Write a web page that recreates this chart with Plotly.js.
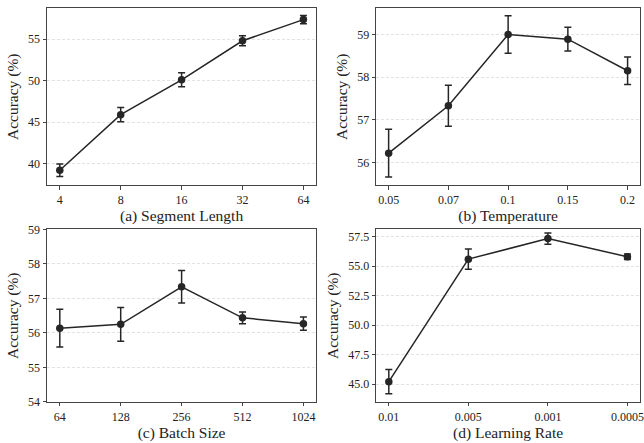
<!DOCTYPE html>
<html>
<head>
<meta charset="utf-8">
<script src="https://cdn.plot.ly/plotly-3.0.1.min.js"></script>
<style>html,body{margin:0;padding:0;background:#fff;}#chart{width:644px;height:443px;}</style>
</head>
<body>
<div id="chart"></div>
<script>
// Data
const segLabels = ["4", "8", "16", "32", "64"];
const segAcc = [39.2, 45.9, 50.1, 54.8, 57.35];
const segErr = [0.75, 0.85, 0.85, 0.6, 0.5];

const tempLabels = ["0.05", "0.07", "0.1", "0.15", "0.2"];
const tempAcc = [56.22, 57.33, 59.0, 58.89, 58.15];
const tempErr = [0.56, 0.48, 0.44, 0.28, 0.32];

const batchLabels = ["64", "128", "256", "512", "1024"];
const batchAcc = [56.14, 56.25, 57.34, 56.44, 56.27];
const batchErr = [0.55, 0.49, 0.47, 0.17, 0.19];

const lrLabels = ["0.01", "0.005", "0.001", "0.0005"];
const lrAcc = [45.22, 55.59, 57.33, 55.79];
const lrErr = [1.03, 0.85, 0.48, 0.24];

const ink = '#262626';
function tr(x, y, e, xa, ya) {
  return {
    x: x, y: y, xaxis: xa, yaxis: ya, type: 'scatter', mode: 'lines+markers',
    line: {color: ink, width: 1.5},
    marker: {color: ink, size: 7.5},
    error_y: {type: 'data', array: e, visible: true, color: ink, thickness: 1.5, width: 3.5},
    showlegend: false, cliponaxis: false
  };
}
const data = [
  tr(segLabels, segAcc, segErr, 'x', 'y'),
  tr(tempLabels, tempAcc, tempErr, 'x2', 'y2'),
  tr(batchLabels, batchAcc, batchErr, 'x3', 'y3'),
  tr(lrLabels, lrAcc, lrErr, 'x4', 'y4')
];
const font = {family: '"Liberation Serif", "Times New Roman", serif', size: 12, color: '#222'};
const titleFont = {family: font.family, size: 15.5, color: '#222'};
function xax(dom, anchor, title, n, pad) {
  return {
    domain: dom, anchor: anchor, type: 'category',
    range: [-pad, n - 1 + pad],
    showgrid: false, zeroline: false,
    showline: true, mirror: true, linecolor: '#444', linewidth: 1,
    ticks: 'outside', ticklen: 3.5, tickcolor: '#444', tickwidth: 1,
    tickfont: font,
    title: {text: title, font: titleFont, standoff: 3}
  };
}
function yax(dom, anchor, range, dtick, fmt) {
  return {
    domain: dom, anchor: anchor, range: range, dtick: dtick, tickformat: fmt,
    showgrid: true, gridcolor: '#dcdcdc', griddash: '3px,2px', gridwidth: 0.8,
    zeroline: false,
    showline: true, mirror: true, linecolor: '#444', linewidth: 1,
    ticks: 'outside', ticklen: 3.5, tickcolor: '#444', tickwidth: 1,
    tickfont: font,
    title: {text: 'Accuracy (%)', font: titleFont, standoff: 5}
  };
}
const layout = {
  width: 644, height: 443,
  margin: {l: 0, r: 0, t: 0, b: 0},
  paper_bgcolor: '#fff', plot_bgcolor: '#fff',
  font: font,
  xaxis: xax([0.073, 0.491], 'y', '(a) Segment Length', 5, 0.21),
  yaxis: yax([0.582, 0.981], 'x', [37.4, 58.7], 5, ''),
  xaxis2: xax([0.584, 0.994], 'y2', '(b) Temperature', 5, 0.21),
  yaxis2: yax([0.582, 0.981], 'x2', [55.47, 59.61], 1, ''),
  xaxis3: xax([0.073, 0.491], 'y3', '(c) Batch Size', 5, 0.21),
  yaxis3: yax([0.0926, 0.482], 'x3', [54, 59], 1, ''),
  xaxis4: xax([0.584, 0.994], 'y4', '(d) Learning Rate', 4, 0.16),
  yaxis4: yax([0.0926, 0.482], 'x4', [43.5, 58.1], 2.5, '.1f')
};
Plotly.newPlot('chart', data, layout, {displayModeBar: false, staticPlot: true});
</script>
</body>
</html>
